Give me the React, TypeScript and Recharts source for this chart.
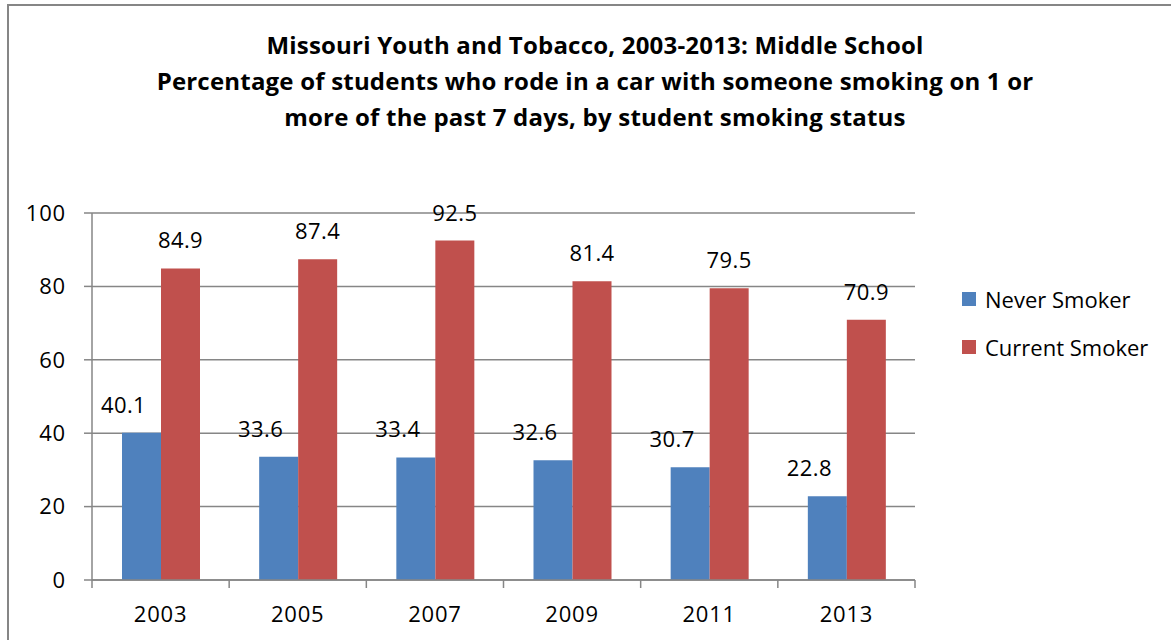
import { Bar, BarChart, CartesianGrid, LabelList, XAxis, YAxis } from "recharts";

const years = ["2003", "2005", "2007", "2009", "2011", "2013"];
const neverSmoker = [40.1, 33.6, 33.4, 32.6, 30.7, 22.8];
const currentSmoker = [84.9, 87.4, 92.5, 81.4, 79.5, 70.9];
const yTicks = [0, 20, 40, 60, 80, 100];

const titleLines = [
  "Missouri Youth and Tobacco, 2003-2013: Middle School",
  "Percentage of students who rode in a car with someone smoking on 1 or",
  "more of the past 7 days, by student smoking status",
];

const legendItems = [
  { name: "Never Smoker", color: "#4F81BD" },
  { name: "Current Smoker", color: "#C0504D" },
];

const data = years.map((year, i) => ({
  year,
  never: neverSmoker[i],
  current: currentSmoker[i],
}));

const FONT = "'Open Sans', Lato, sans-serif";
const AXIS = "#868686";
const BAND = (915 - 92) / years.length;

function YearTick(props: any) {
  const { x, y, payload, index } = props;
  const half = BAND / 2;
  return (
    <g>
      <line x1={x - half} x2={x - half} y1={y - 8} y2={y} stroke={AXIS} strokeWidth={1.5} />
      {index === years.length - 1 && (
        <line x1={x + half} x2={x + half} y1={y - 8} y2={y} stroke={AXIS} strokeWidth={1.5} />
      )}
      <text x={x} y={y + 34} textAnchor="middle" fontSize={22} letterSpacing={0.8} fontFamily={FONT} fill="#000">
        {payload.value}
      </text>
    </g>
  );
}

function makeLabel(dx: number, dy: number) {
  return (props: any) => {
    const { x, y, width, value } = props;
    return (
      <text x={x + width / 2 + dx} y={y - dy} textAnchor="middle" fontSize={22} letterSpacing={0.4} fontFamily={FONT} fill="#000">
        {value}
      </text>
    );
  };
}

export default function App() {
  return (
    <div style={{ position: "fixed", left: 0, top: 0, width: 1171, height: 640, background: "#fff", overflow: "hidden", fontFamily: FONT }}>
      <div style={{ position: "absolute", left: 7, top: 4, width: 1200, height: 700, border: "2px solid #868686" }} />
      <div style={{ position: "absolute", left: 0, top: 27, width: 1190, textAlign: "center", fontWeight: 700, fontSize: 24, letterSpacing: 0.2, lineHeight: "36px", color: "#000" }}>
        {titleLines.map((t) => (
          <div key={t}>{t}</div>
        ))}
      </div>
      <BarChart
        width={1171}
        height={640}
        data={data}
        margin={{ top: 213, right: 256, left: 32, bottom: 0 }}
        barGap={0}
        barSize={39}
        style={{ position: "absolute", left: 0, top: 0 }}
      >
        <CartesianGrid stroke={AXIS} strokeWidth={1.5} vertical={false} />
        <XAxis
          dataKey="year"
          axisLine={{ stroke: AXIS, strokeWidth: 1.5 }}
          tickLine={false}
          tick={<YearTick />}
          interval={0}
          height={60}
        />
        <YAxis
          width={60}
          domain={[0, 100]}
          ticks={yTicks}
          axisLine={{ stroke: AXIS, strokeWidth: 1.5 }}
          tickLine={{ stroke: AXIS, strokeWidth: 1.5 }}
          tickSize={8}
          tickMargin={18}
          tick={{ fontSize: 22, fill: "#000", fontFamily: FONT, letterSpacing: 0.8 }}
        />
        <Bar dataKey="never" fill="#4F81BD" isAnimationActive={false}>
          <LabelList dataKey="never" content={makeLabel(-18, 20)} />
        </Bar>
        <Bar dataKey="current" fill="#C0504D" isAnimationActive={false}>
          <LabelList dataKey="current" content={makeLabel(0, 20)} />
        </Bar>
      </BarChart>
      <div style={{ position: "absolute", left: 962, top: 275 }}>
        {legendItems.map((item) => (
          <div key={item.name} style={{ display: "flex", alignItems: "center", height: 48, fontSize: 22, color: "#000" }}>
            <span style={{ width: 14, height: 14, background: item.color, marginRight: 9 }} />
            {item.name}
          </div>
        ))}
      </div>
    </div>
  );
}
